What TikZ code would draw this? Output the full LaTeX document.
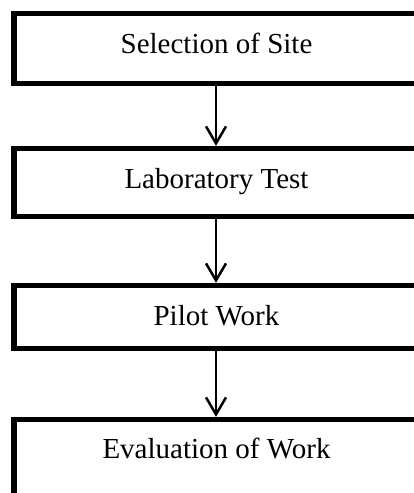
\documentclass[tikz,border=0pt]{standalone}
\usepackage{fontspec}
\setmainfont{Liberation Serif}
\usetikzlibrary{arrows.meta}
\begin{document}
\begin{tikzpicture}[x=1pt,y=-1pt,
  stepbox/.style={draw, line width=5.3pt, rectangle, minimum width=404pt, inner sep=0pt},
  steptext/.style={anchor=base, inner sep=0pt, font=\fontsize{29}{32}\selectfont},
  flow/.style={line width=2.5pt, -{Straight Barb[length=17pt,width=20pt,line width=2.5pt]}}]
  \useasboundingbox (0,0) rectangle (414,493);
  \clip (0,0) rectangle (414,493);
  % boxes
  \node[stepbox, minimum height=70pt] (b1) at (216,48.4) {};
  \node[stepbox, minimum height=68pt] (b2) at (216,182.5) {};
  \node[stepbox, minimum height=63pt] (b3) at (216,317) {};
  \node[stepbox, minimum height=140pt] (b4) at (216,489.5) {};
  % labels
  \node[steptext] (t1) at (216.5,53) {Selection of Site};
  \node[steptext] (t2) at (216.5,188) {Laboratory Test};
  \node[steptext] (t3) at (216.5,325) {Pilot Work};
  \node[steptext] (t4) at (216.5,458) {Evaluation of Work};
  % connectors
  \draw[flow] (b1.south) -- (b2.north);
  \draw[flow] (b2.south) -- (b3.north);
  \draw[flow] (b3.south) -- (b4.north);
\end{tikzpicture}
\end{document}
